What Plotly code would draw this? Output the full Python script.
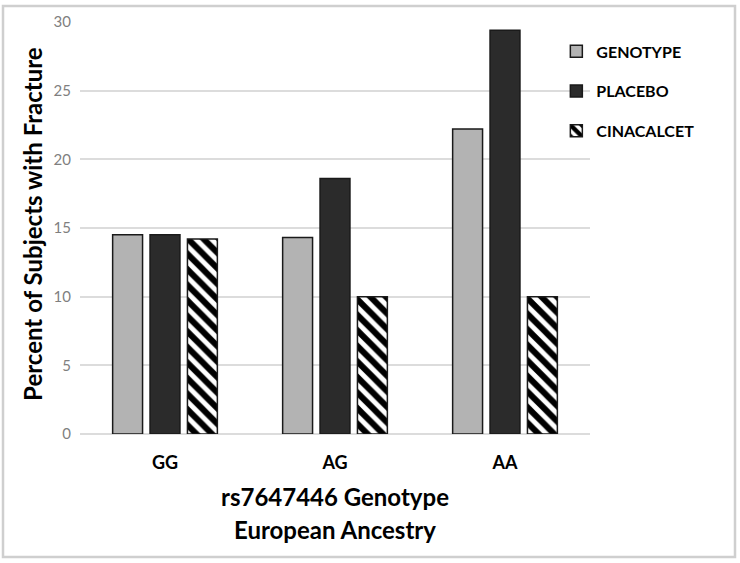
import plotly.graph_objects as go

# data
genotypes = ["GG", "AG", "AA"]
genotype_pct = [14.5, 14.3, 22.2]
placebo_pct = [14.5, 18.6, 29.4]
cinacalcet_pct = [14.2, 10.0, 10.0]

FONT = "Lato"

fig = go.Figure()

# bars
fig.add_trace(go.Bar(x=genotypes, y=genotype_pct, name="GENOTYPE", legendgroup="a",
                     marker=dict(color="#b3b3b3", line=dict(color="#1a1a1a", width=1.5))))
fig.add_trace(go.Bar(x=genotypes, y=placebo_pct, name="PLACEBO", legendgroup="b",
                     marker=dict(color="#2b2b2b", line=dict(color="#1a1a1a", width=1.5))))
fig.add_trace(go.Bar(x=genotypes, y=cinacalcet_pct, name="CINACALCET", legendgroup="c",
                     marker=dict(color="white", line=dict(color="#1a1a1a", width=1.5),
                                 pattern=dict(shape="\\", fgcolor="#000000", fgopacity=1,
                                              bgcolor="white", size=11, solidity=0.55))))

fig.update_layout(
    width=740, height=563,
    margin=dict(l=80, r=150, t=19, b=129),
    paper_bgcolor="white", plot_bgcolor="white",
    font=dict(family=FONT, color="black"),
    barmode="group", bargap=0.34, bargroupgap=0.2,
    showlegend=True,
    legend=dict(x=0.934, y=0.97, xanchor="left", yanchor="top",
                font=dict(family=FONT, size=16, color="black", weight="bold"),
                tracegroupgap=16, bgcolor="rgba(0,0,0,0)"),
)

fig.update_yaxes(range=[0, 30], dtick=5, showgrid=True, gridcolor="#dcdcdc", gridwidth=1.5,
                 zeroline=True, zerolinecolor="#dcdcdc", zerolinewidth=1.5, showline=False,
                 ticks="", ticklabelstandoff=8,
                 tickfont=dict(family=FONT, size=15, color="#7f7f7f"))
fig.update_xaxes(showline=False, ticks="", ticklabelstandoff=16,
                 tickfont=dict(family=FONT, size=18, color="black", weight="bold"))

# y axis title
fig.add_annotation(text="Percent of Subjects with Fracture", xref="paper", yref="paper",
                   x=-47 / 510, y=0.51, xanchor="center", yanchor="middle", textangle=-90,
                   showarrow=False, font=dict(family=FONT, size=24, color="black", weight="bold"))

# x axis title, two lines
fig.add_annotation(text="rs7647446 Genotype", xref="paper", yref="paper",
                   x=0.5, y=-63 / 415, xanchor="center", yanchor="middle",
                   showarrow=False, font=dict(family=FONT, size=24, color="black", weight="bold"))
fig.add_annotation(text="European Ancestry", xref="paper", yref="paper",
                   x=0.5, y=-96 / 415, xanchor="center", yanchor="middle",
                   showarrow=False, font=dict(family=FONT, size=24, color="black", weight="bold"))

# outer frame of the picture
fig.add_shape(type="rect", xref="paper", yref="paper",
              x0=-77 / 510, x1=655 / 510, y0=-124 / 415, y1=431 / 415,
              line=dict(color="#cfcfcf", width=2.5), fillcolor="rgba(0,0,0,0)")

# drop the browser's default body margin so the figure sits at the page corner
fig.write_html("out.html", config={"displayModeBar": False},
               post_script="document.body.style.margin='0px';")
